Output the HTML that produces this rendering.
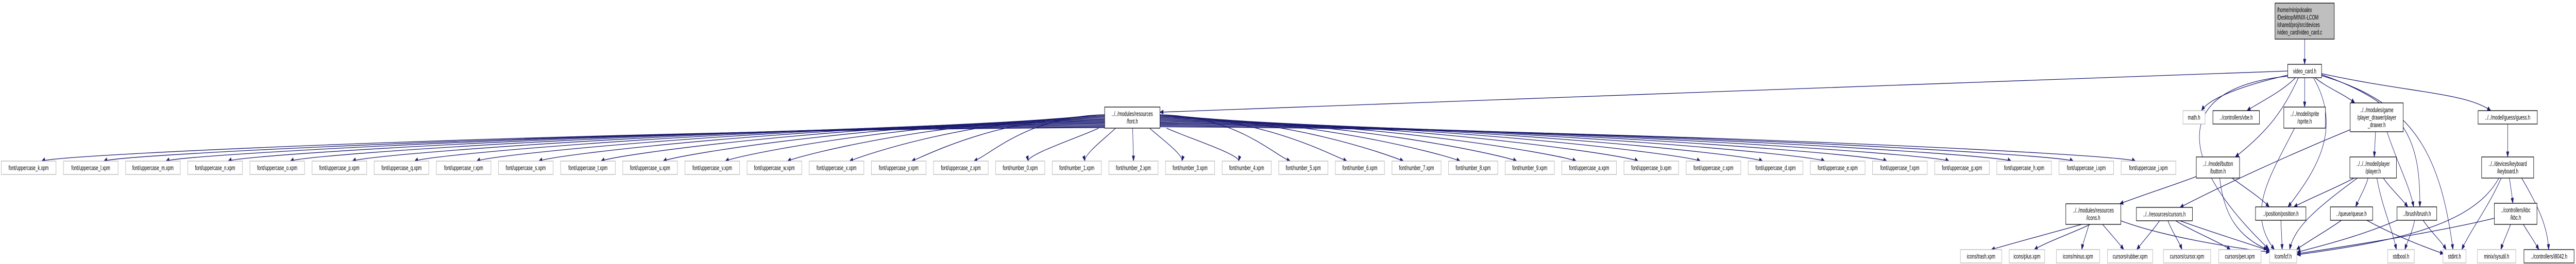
<!DOCTYPE html>
<html><head><meta charset="utf-8"><title>video_card.c include graph</title>
<style>
html,body{margin:0;padding:0;background:#fff;width:100%;height:100%;overflow:hidden;}
svg{display:block;width:100vw;height:100vh;}
text{font-family:"Liberation Sans",sans-serif;font-size:12.5px;fill:#000;}
</style></head>
<body>
<svg id="g" viewBox="0 0 7917 513" preserveAspectRatio="none" xmlns="http://www.w3.org/2000/svg">
<g id="edges"></g>
<g id="nodes"></g>
</svg>
<script>
// font leaf labels (in row order)
const fontUpper1 = ["k","l","m","n","o","p","q","r","s","t","u","v","w","x","y","z"];
const fontNumbers = ["0","1","2","3","4","5","6","7","8","9"];
const fontUpper2 = ["a","b","c","d","e","f","g","h","i","j"];

const NS = "http://www.w3.org/2000/svg";
const edgesG = document.getElementById('edges');
const nodesG = document.getElementById('nodes');
const EC = "#191970";
const nodes = {};

function addNode(id, lines, x, y, w, h, kind, align) {
  const g = document.createElementNS(NS, 'g');
  
  
  const r = document.createElementNS(NS, 'rect');
  r.setAttribute('x', x); r.setAttribute('y', y);
  r.setAttribute('width', w); r.setAttribute('height', h);
  r.setAttribute('fill', kind === 'root' ? '#bfbfbf' : '#fff');
  r.setAttribute('stroke', kind === 'leaf' ? '#bfbfbf' : '#000');
  r.setAttribute('stroke-width', kind === 'leaf' ? '1.5' : '1.3');
  g.appendChild(r);
  const lh = 14.5;
  const y0 = y + h / 2 - (lines.length - 1) * lh / 2 + 4.5;
  lines.forEach((t, i) => {
    const tx = document.createElementNS(NS, 'text');
    if (align === 'left') { tx.setAttribute('x', x + 6); }
    else { tx.setAttribute('x', x + w / 2); tx.setAttribute('text-anchor', 'middle'); }
    tx.setAttribute('y', y0 + i * lh);
    tx.textContent = t;
    g.appendChild(tx);
  });
  nodesG.appendChild(g);
  nodes[id] = {x, y, w, h, cx: x + w / 2, cy: y + h / 2};
}

function arrowPath(d, ex, ey, c2x, c2y, name) {
  const p = document.createElementNS(NS, 'path');
  
  
  let ang = Math.atan2(ey - c2y, ex - c2x);
  const L = 10, W = 3.8;
  const bx = ex - L * Math.cos(ang), by = ey - L * Math.sin(ang);
  p.setAttribute('d', d);
  p.setAttribute('fill', 'none');
  p.setAttribute('stroke', EC);
  p.setAttribute('stroke-width', '1.3');
  edgesG.appendChild(p);
  const a = document.createElementNS(NS, 'polygon');
  
  
  const px = -Math.sin(ang) * W, py = Math.cos(ang) * W;
  a.setAttribute('points', `${ex},${ey} ${bx + px},${by + py} ${bx - px},${by - py}`);
  a.setAttribute('fill', EC);
  a.setAttribute('stroke', EC);
  edgesG.appendChild(a);
}

function edge(from, to, opt) {
  opt = opt || {};
  const a = nodes[from], b = nodes[to];
  let sx, sy, ex, ey, c1x, c1y, c2x, c2y;
  const dx = b.cx - a.cx;
  sx = opt.sx !== undefined ? opt.sx : Math.max(a.x + 6, Math.min(a.x + a.w - 6, a.cx + dx * 0.35));
  sy = opt.sy !== undefined ? opt.sy : a.y + a.h;
  ex = opt.ex !== undefined ? opt.ex : Math.max(b.x + 8, Math.min(b.x + b.w - 8, b.cx - dx * 0.1));
  ey = opt.ey !== undefined ? opt.ey : b.y;
  if (opt.c) { [c1x, c1y, c2x, c2y] = opt.c; }
  else {
    c1x = sx + (ex - sx) * 0.25; c1y = sy + (ey - sy) * 0.4;
    c2x = ex - (ex - sx) * 0.25; c2y = ey - (ey - sy) * 0.4;
  }
  arrowPath(`M${sx},${sy} C${c1x},${c1y} ${c2x},${c2y} ${ex},${ey}`, ex, ey, c2x, c2y, 'edge-' + from + '-to-' + to);
}

addNode('root', ["/home/minipoloalex", "/Desktop/MINIX-LCOM", "/shared/proj/src/devices", "/video_card/video_card.c"], 6992, 6, 182, 70, 'root', 'left');
addNode('video_card', ["video_card.h"], 7031, 125, 104, 26, 'inner');
addNode('font', ["../../modules/resources", "/font.h"], 3395, 208, 170, 41, 'inner');
addNode('math', ["math.h"], 6709, 215, 68, 26, 'leaf');
addNode('vbe', ["../controllers/vbe.h"], 6801, 215, 143, 26, 'inner');
addNode('sprite', ["../../model/sprite", "/sprite.h"], 7019, 208, 128, 41, 'inner');
addNode('player_drawer', ["../../modules/game", "/player_drawer/player", "_drawer.h"], 7223, 200, 163, 56, 'inner');
addNode('guess', ["../../model/guess/guess.h"], 7616, 215, 182, 26, 'inner');
addNode('button', ["../../model/button", "/button.h"], 6750, 305, 133, 41, 'inner');
addNode('player', ["../../../model/player", "/player.h"], 7222, 305, 143, 41, 'inner');
addNode('keyboard', ["../../devices/keyboard", "/keyboard.h"], 7627, 305, 160, 41, 'inner');
addNode('icons', ["../../modules/resources", "/icons.h"], 6349, 396, 169, 40, 'inner');
addNode('cursors', ["../../resources/cursors.h"], 6566, 403, 172, 26, 'inner');
addNode('position', ["../position/position.h"], 6932, 402, 155, 26, 'inner');
addNode('queue', ["../queue/queue.h"], 7162, 402, 130, 26, 'inner');
addNode('brush', ["../brush/brush.h"], 7367, 402, 122, 26, 'inner');
addNode('kbc', ["../controllers/kbc", "/kbc.h"], 7666, 395, 131, 41, 'inner');
addNode('trash', ["icons/trash.xpm"], 6025, 485, 127, 26, 'leaf');
addNode('plus', ["icons/plus.xpm"], 6175, 485, 109, 26, 'leaf');
addNode('minus', ["icons/minus.xpm"], 6320, 485, 133, 26, 'leaf');
addNode('rubber', ["cursors/rubber.xpm"], 6477, 485, 139, 26, 'leaf');
addNode('cursor', ["cursors/cursor.xpm"], 6649, 485, 145, 26, 'leaf');
addNode('pen', ["cursors/pen.xpm"], 6819, 485, 130, 26, 'leaf');
addNode('lcf', ["lcom/lcf.h"], 6975, 485, 84, 26, 'leaf');
addNode('stdbool', ["stdbool.h"], 7338, 485, 82, 26, 'leaf');
addNode('stdint', ["stdint.h"], 7508, 485, 71, 26, 'leaf');
addNode('sysutil', ["minix/sysutil.h"], 7614, 485, 118, 26, 'leaf');
addNode('i8042', ["../controllers/i8042.h"], 7757, 485, 154, 26, 'inner');

const leafIds = [];
let lx = 4;
function addLeaf(label, w) {
  const id = 'leaf-' + label.replace(/[^a-z0-9]/gi, '_');
  addNode(id, [label], lx, 313, w, 26, 'leaf');
  leafIds.push(id);
  lx += w + 23;
}
fontUpper1.forEach(c => addLeaf('font/uppercase_' + c + '.xpm', 168));
fontNumbers.forEach(c => addLeaf('font/number_' + c + '.xpm', 151));
fontUpper2.forEach(c => addLeaf('font/uppercase_' + c + '.xpm', 168));

const f = nodes['font'];
leafIds.forEach((id, i) => {
  const b = nodes[id];
  const dx = b.cx - f.cx;
  const ad = Math.abs(dx), s = Math.sign(dx);
  if (ad < 420) {
    edge('font', id, {sx: f.cx + dx * 0.3, sy: f.y + f.h, ex: b.cx + (ad < 100 ? 0 : -s * 25), ey: b.y,
      c: [f.cx + dx * 0.45, 265, b.cx - s * 20 * (ad > 100), 300]});
  } else {
    const sx = s < 0 ? f.x : f.x + f.w;
    const sy = 218 + Math.min(30, ad / 110);
    const ex = b.cx - s * 40, ey = b.y;
    edge('font', id, {sx, sy, ex, ey, c: [sx + dx * 0.45, sy + 4, ex - s * 55, ey - 14]});
  }
});

edge('root', 'video_card', {sx: 7083, sy: 76, ex: 7083, ey: 125, c: [7083, 95, 7083, 105]});
edge('video_card', 'font', {sx: 7031, sy: 138, ex: 3565, ey: 218, c: [5800, 165, 4800, 190]});
edge('video_card', 'math', {sx: 7031, sy: 146, ex: 6766, ey: 215, c: [6900, 165, 6790, 190]});
edge('video_card', 'lcf', {sx: 7031, sy: 148, ex: 6973, ey: 484, c: [6690, 170, 6670, 300]});
edge('video_card', 'vbe', {sx: 7055, sy: 151, ex: 6906, ey: 215, c: [7010, 180, 6940, 200]});
edge('video_card', 'button', {sx: 7064, sy: 151, ex: 6870, ey: 305, c: [7020, 210, 6980, 250]});
edge('video_card', 'sprite', {sx: 7083, sy: 151, ex: 7083, ey: 208, c: [7083, 170, 7083, 190]});
edge('video_card', 'position', {sx: 7110, sy: 151, ex: 7032, ey: 402, c: [7200, 250, 7120, 330]});
edge('video_card', 'player_drawer', {sx: 7115, sy: 151, ex: 7237, ey: 200, c: [7150, 170, 7210, 185]});
edge('video_card', 'brush', {sx: 7135, sy: 145, ex: 7437, ey: 402, c: [7380, 200, 7440, 260]});
edge('video_card', 'stdint', {sx: 7135, sy: 147, ex: 7539, ey: 485, c: [7420, 200, 7500, 300]});
edge('video_card', 'guess', {sx: 7135, sy: 143, ex: 7655, ey: 215, c: [7400, 180, 7580, 180]});
edge('sprite', 'lcf', {sx: 7052, sy: 249, ex: 6990, ey: 485, c: [6980, 340, 6900, 410]});
edge('player_drawer', 'player', {sx: 7301, sy: 256, ex: 7297, ey: 305, c: [7300, 270, 7298, 290]});
edge('player_drawer', 'brush', {sx: 7336, sy: 256, ex: 7418, ey: 402, c: [7370, 320, 7405, 360]});
edge('player_drawer', 'cursors', {sx: 7223, sy: 252, ex: 6700, ey: 403, c: [7000, 310, 6800, 370]});
edge('guess', 'keyboard', {sx: 7707, sy: 241, ex: 7707, ey: 305, c: [7707, 260, 7707, 285]});
edge('button', 'icons', {sx: 6750, sy: 343, ex: 6515, ey: 396, c: [6680, 360, 6580, 380]});
edge('button', 'position', {sx: 6860, sy: 346, ex: 6974, ey: 402, c: [6900, 365, 6950, 385]});
edge('button', 'lcf', {sx: 6822, sy: 346, ex: 6968, ey: 485, c: [6835, 420, 6880, 460]});
edge('player', 'position', {sx: 7235, sy: 346, ex: 7050, ey: 402, c: [7180, 365, 7100, 385]});
edge('player', 'lcf', {sx: 7245, sy: 346, ex: 7037, ey: 485, c: [7130, 400, 7050, 440]});
edge('player', 'queue', {sx: 7278, sy: 346, ex: 7240, ey: 402, c: [7270, 365, 7250, 385]});
edge('player', 'stdbool', {sx: 7305, sy: 346, ex: 7365, ey: 485, c: [7320, 400, 7350, 440]});
edge('player', 'brush', {sx: 7325, sy: 346, ex: 7400, ey: 402, c: [7345, 365, 7380, 385]});
edge('queue', 'lcf', {sx: 7196, sy: 428, ex: 7058, ey: 485, c: [7160, 445, 7090, 470]});
edge('queue', 'stdint', {sx: 7274, sy: 428, ex: 7510, ey: 493, c: [7350, 455, 7450, 480]});
edge('brush', 'lcf', {sx: 7367, sy: 428, ex: 7060, ey: 490, c: [7250, 460, 7120, 480]});
edge('brush', 'stdbool', {sx: 7421, sy: 428, ex: 7391, ey: 485, c: [7415, 450, 7398, 470]});
edge('brush', 'stdint', {sx: 7447, sy: 428, ex: 7518, ey: 485, c: [7470, 450, 7505, 470]});
edge('keyboard', 'lcf', {sx: 7680, sy: 346, ex: 7060, ey: 495, c: [7600, 440, 7350, 470]});
edge('keyboard', 'stdint', {sx: 7687, sy: 346, ex: 7566, ey: 485, c: [7650, 400, 7590, 450]});
edge('keyboard', 'kbc', {sx: 7712, sy: 346, ex: 7723, ey: 395, c: [7716, 360, 7720, 380]});
edge('keyboard', 'i8042', {sx: 7750, sy: 346, ex: 7833, ey: 485, c: [7800, 400, 7830, 440]});
edge('kbc', 'lcf', {sx: 7666, sy: 424, ex: 7060, ey: 493, c: [7500, 450, 7200, 480]});
edge('kbc', 'sysutil', {sx: 7716, sy: 436, ex: 7686, ey: 485, c: [7708, 450, 7693, 470]});
edge('kbc', 'i8042', {sx: 7755, sy: 436, ex: 7803, ey: 485, c: [7768, 450, 7790, 470]});
edge('position', 'lcf', {sx: 7010, sy: 428, ex: 7014, ey: 485, c: [7011, 445, 7013, 465]});
edge('icons', 'trash', {sx: 6398, sy: 436, ex: 6120, ey: 485, c: [6320, 450, 6200, 470]});
edge('icons', 'plus', {sx: 6424, sy: 436, ex: 6252, ey: 485, c: [6380, 450, 6290, 470]});
edge('icons', 'minus', {sx: 6420, sy: 436, ex: 6398, ey: 485, c: [6415, 450, 6402, 470]});
edge('icons', 'rubber', {sx: 6462, sy: 436, ex: 6527, ey: 485, c: [6480, 450, 6510, 470]});
edge('icons', 'lcf', {sx: 6518, sy: 429, ex: 6975, ey: 490, c: [6650, 460, 6850, 480]});
edge('cursors', 'rubber', {sx: 6637, sy: 429, ex: 6567, ey: 485, c: [6620, 445, 6585, 470]});
edge('cursors', 'cursor', {sx: 6663, sy: 429, ex: 6706, ey: 485, c: [6675, 450, 6698, 470]});
edge('cursors', 'pen', {sx: 6687, sy: 429, ex: 6855, ey: 485, c: [6740, 450, 6820, 470]});
edge('cursors', 'lcf', {sx: 6700, sy: 429, ex: 6978, ey: 488, c: [6790, 450, 6920, 475]});
</script>
</body></html>
